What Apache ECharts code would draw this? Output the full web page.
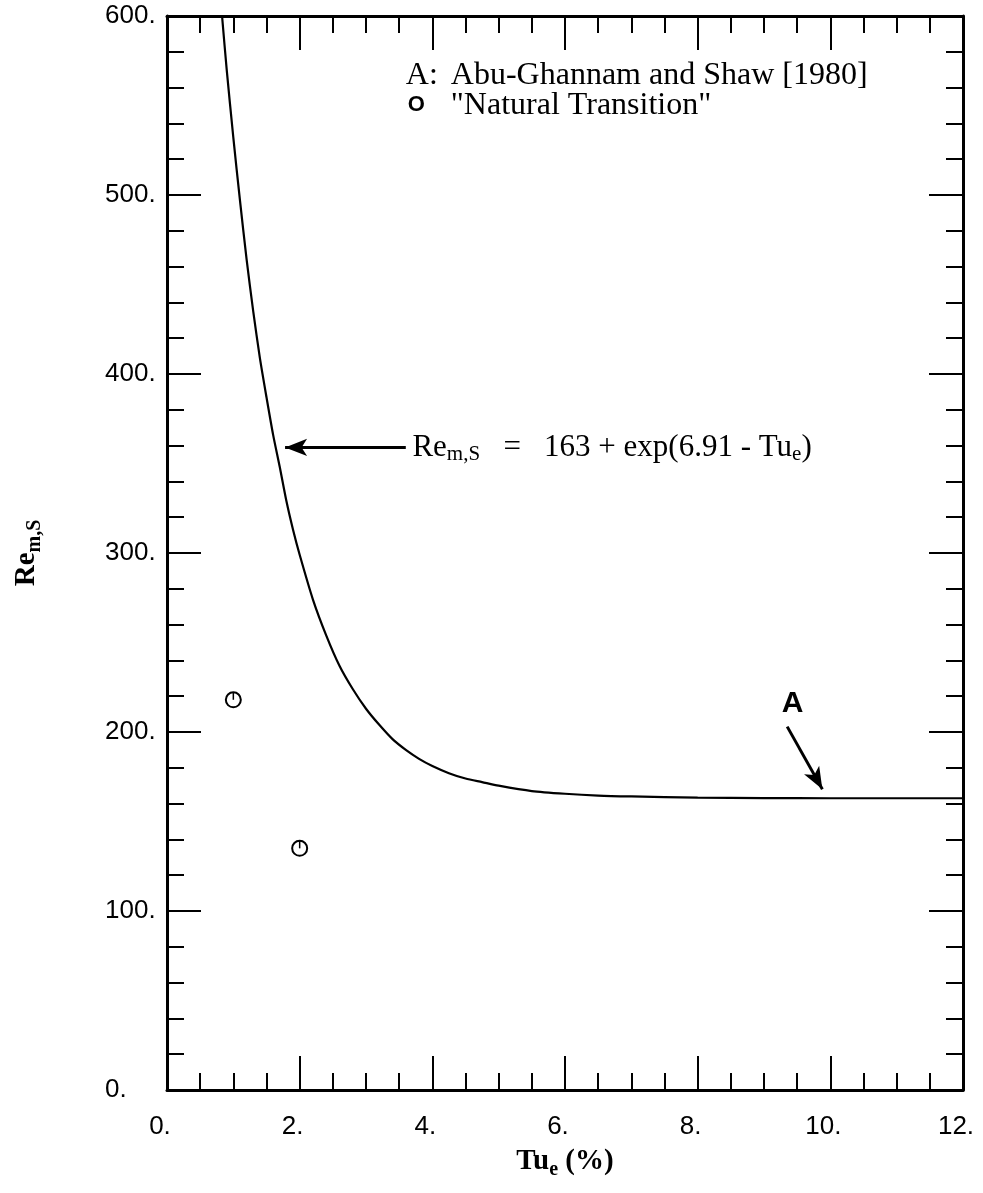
<!DOCTYPE html>
<html>
<head>
<meta charset="utf-8">
<script src="https://cdn.jsdelivr.net/npm/echarts@6/dist/echarts.min.js"></script>
<style>html,body{margin:0;padding:0;background:#fff}#c{width:983px;height:1193px}</style>
</head>
<body>
<div id="c"></div>
<script>
// Curve Re_m,S vs Tu_e
const tuCurve = [0.83, 0.9, 1.0, 1.1, 1.2, 1.3, 1.4, 1.5, 1.6, 1.7, 1.8, 1.9, 2.0, 2.2, 2.4, 2.6, 2.8, 3.0, 3.2, 3.4, 3.6, 3.8, 4.0, 4.25, 4.5, 4.75, 5.0, 5.5, 6.0, 6.5, 7.0, 8.0, 9.0, 10.0, 12.0];
const reCurve = [600, 570, 532, 497, 464, 435, 409, 387, 366, 348, 329, 313, 299, 274, 254, 237, 224, 213, 204, 196, 190, 185, 181, 177, 174, 172, 170, 167, 165.5, 164.5, 164, 163.3, 163.1, 163, 163];
// "Natural Transition" points
const tuPts = [1.0, 2.0];
const rePts = [218, 135];
// axes
const xMin = 0, xMax = 12, xStep = 2;
const yMin = 0, yMax = 600, yStep = 100;

const chart = echarts.init(document.getElementById('c'), null, {renderer: 'canvas'});
const serif = '"Liberation Serif", "DejaVu Serif", serif';
const sans = '"Liberation Sans", "DejaVu Sans", sans-serif';

const tickCommon = {show: true, inside: true, length: 34, lineStyle: {color: '#000', width: 2}};
const minorCommon = {show: true, length: 17, lineStyle: {color: '#000', width: 2}};
const axLine = {show: true, onZero: false, lineStyle: {color: '#000', width: 3}};

const option = {
  animation: false,
  backgroundColor: '#fff',
  grid: {left: 167, right: 20, top: 16, bottom: 103, containLabel: false},
  xAxis: [{
    type: 'value', min: xMin, max: xMax, interval: xStep, position: 'bottom',
    axisLine: axLine, axisTick: tickCommon,
    minorTick: Object.assign({splitNumber: 4}, minorCommon),
    splitLine: {show: false}, minorSplitLine: {show: false},
    axisLabel: {formatter: v => v + '.', color: '#000', fontFamily: sans, fontSize: 26, margin: 24, padding: [0, 14, 0, 0]},
    name: '{b|Tu}{s|e}{b| (%)}', nameLocation: 'middle', nameGap: 54,
    nameTextStyle: {rich: {b: {fontFamily: serif, fontWeight: 'bold', fontSize: 29, color: '#000'},
                            s: {fontFamily: serif, fontWeight: 'bold', fontSize: 20, color: '#000', verticalAlign: 'bottom', padding: [16, 0, 0, 0]}}}
  }, {
    type: 'value', min: xMin, max: xMax, interval: xStep, position: 'top',
    axisLine: axLine, axisTick: tickCommon,
    minorTick: Object.assign({splitNumber: 4}, minorCommon),
    splitLine: {show: false}, axisLabel: {show: false}
  }],
  yAxis: [{
    type: 'value', min: yMin, max: yMax, interval: yStep, position: 'left',
    axisLine: axLine, axisTick: tickCommon,
    minorTick: Object.assign({splitNumber: 5}, minorCommon),
    splitLine: {show: false}, minorSplitLine: {show: false},
    axisLabel: {formatter: v => v + '.', color: '#000', fontFamily: sans, fontSize: 26, margin: 62, align: 'left'},
    name: '{b|Re}{s|m,S}', nameLocation: 'middle', nameGap: 122, nameRotate: 90,
    nameTextStyle: {rich: {b: {fontFamily: serif, fontWeight: 'bold', fontSize: 29, color: '#000'},
                            s: {fontFamily: serif, fontWeight: 'bold', fontSize: 20, color: '#000', padding: [16, 0, 0, 0]}}}
  }, {
    type: 'value', min: yMin, max: yMax, interval: yStep, position: 'right',
    axisLine: axLine, axisTick: tickCommon,
    minorTick: Object.assign({splitNumber: 5}, minorCommon),
    splitLine: {show: false}, axisLabel: {show: false}
  }],
  series: [{
    type: 'line', xAxisIndex: 0, yAxisIndex: 0,
    data: tuCurve.map((t, i) => [t, reCurve[i]]),
    smooth: 0.25, showSymbol: false, clip: true,
    lineStyle: {color: '#000', width: 2.2},
    markLine: {
      silent: true, symbol: ['none', 'arrow'], symbolSize: [13, 22],
      label: {show: false},
      lineStyle: {color: '#000', width: 3, type: 'solid'},
      data: [
        [{coord: [3.6, 359]}, {coord: [1.78, 359]}],
        [{coord: [9.35, 203]}, {coord: [9.88, 168]}]
      ]
    }
  }, {
    type: 'custom', xAxisIndex: 0, yAxisIndex: 0,
    data: tuPts.map((t, i) => [t, rePts[i]]),
    renderItem: function (params, api) {
      const p = api.coord([api.value(0), api.value(1)]);
      const r = 7.5;
      return {type: 'group', children: [
        {type: 'circle', shape: {cx: p[0], cy: p[1], r: r}, style: {fill: 'none', stroke: '#000', lineWidth: 2}},
        {type: 'line', shape: {x1: p[0], y1: p[1] - r, x2: p[0], y2: p[1]}, style: {stroke: '#000', lineWidth: 1.5}}
      ]};
    }
  }]
};
chart.setOption(option);

const px = (x, y) => chart.convertToPixel({gridIndex: 0}, [x, y]);
const eqPos = px(3.7, 359);
const aPos = px(9.43, 216);
const legX = px(3.6, 0)[0];
chart.setOption({
  graphic: [
    {type: 'text', left: legX, top: 60, style: {text: 'A:', font: '32px ' + serif, fill: '#000'}},
    {type: 'text', left: legX + 45, top: 60, style: {text: 'Abu-Ghannam and Shaw [1980]', font: '32px ' + serif, fill: '#000'}},
    {type: 'text', left: legX + 2, top: 94, style: {text: 'O', font: 'bold 22px ' + sans, fill: '#000'}},
    {type: 'text', left: legX + 45, top: 90, style: {text: '"Natural Transition"', font: '32px ' + serif, fill: '#000'}},
    {type: 'text', x: eqPos[0], y: eqPos[1], style: {
      text: '{n|Re}{s|m,S}{n|   =   163 + exp(6.91 - Tu}{s|e}{n|)}',
      verticalAlign: 'middle', align: 'left',
      rich: {n: {font: '31px ' + serif, fill: '#000', color: '#000'},
             s: {font: '21px ' + serif, fill: '#000', color: '#000', padding: [14, 0, 0, 0]}}
    }},
    {type: 'text', x: aPos[0], y: aPos[1], style: {text: 'A', font: 'bold 30px ' + sans, fill: '#000', align: 'center', verticalAlign: 'middle'}}
  ]
});
</script>
</body>
</html>
